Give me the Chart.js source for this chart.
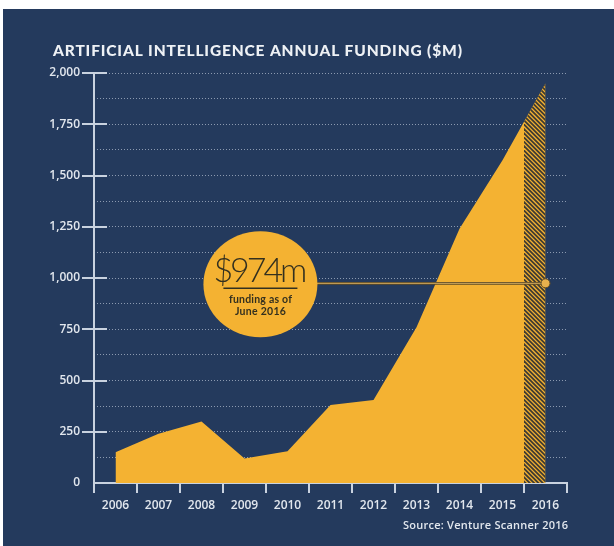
<!DOCTYPE html>
<html>
<head>
<meta charset="utf-8">
<script src="https://cdn.jsdelivr.net/npm/chart.js@4.4.1/dist/chart.umd.min.js"></script>
<style>
  html, body { margin: 0; padding: 0; background: #fff; }
  #wrap { position: relative; width: 614px; height: 546px; overflow: hidden; }
  #panel { position: absolute; left: 3px; top: 9px; right: 0; bottom: 0; background: #243a5d; }
  #chart { position: absolute; left: 0; top: 0; }
</style>
</head>
<body>
<div id="wrap">
  <div id="panel"></div>
  <canvas id="chart" width="614" height="546"></canvas>
</div>
<script>
// AI annual funding area chart, 2016 shown as hatched projection.

const YEARS = ['2006', '2007', '2008', '2009', '2010', '2011', '2012', '2013', '2014', '2015', '2016'];
const FUNDING = [150, 240, 300, 120, 155, 380, 405, 760, 1240, 1575, 1950]; // $M
const JUNE_2016 = 974; // $M, funding as of June 2016
const JUNE_POINT = [null, null, null, null, null, null, null, null, null, null, JUNE_2016];
const Y_MAX = 2000;
const Y_STEP = 125;        // dotted grid every 125
const Y_LABEL_STEP = 250;  // labels + tick marks every 250

const TITLE = 'ARTIFICIAL INTELLIGENCE ANNUAL FUNDING ($M)';
const SOURCE = 'Source: Venture Scanner 2016';
const CALLOUT = ['$974m', 'funding as of', 'June 2016'];

const C = {
  yellow: '#f4b232', axis: '#c9d2df', text: '#e2e7ee',
  grid: 'rgba(210,218,232,0.6)', dark: '#33301f', hatch: '#3d3a33',
};

// fit a string into a given width using letter spacing
function spaced(ctx, str, x, y, width, align) {
  ctx.letterSpacing = '0px';
  const w = ctx.measureText(str).width;
  const ls = (width - w) / Math.max(1, str.length - 1);
  ctx.letterSpacing = ls + 'px';
  ctx.textAlign = 'left';
  const x0 = align === 'center' ? x - width / 2 : align === 'right' ? x - width : x;
  ctx.fillText(str, x0, y);
  ctx.letterSpacing = '0px';
}

const decor = {
  id: 'decor',
  afterDatasetDraw(chart, args) {
    if (args.index !== 0) return;
    const { ctx, chartArea: a, scales: { x, y } } = chart;
    const pts = chart.getDatasetMeta(0).data;
    const p15 = pts[pts.length - 2], p16 = pts[pts.length - 1];
    const base = y.getPixelForValue(0);

    // hatched projection: second half of the 2015-2016 segment
    ctx.save();
    const xm = (p15.x + p16.x) / 2;
    ctx.beginPath();
    ctx.rect(xm, a.top - 20, p16.x - xm, base - a.top + 20);
    ctx.clip();
    ctx.beginPath();
    ctx.moveTo(p15.x, p15.y);
    ctx.lineTo(p16.x, p16.y);
    ctx.lineTo(p16.x, base);
    ctx.lineTo(p15.x, base);
    ctx.closePath();
    ctx.clip();
    ctx.strokeStyle = C.hatch;
    ctx.lineWidth = 1.8;
    const H = base - a.top + 40;
    for (let k = -H; k < p16.x - xm + 10; k += 4.3) {
      ctx.beginPath();
      ctx.moveTo(xm + k, a.top - 20);
      ctx.lineTo(xm + k + H, a.top - 20 + H);
      ctx.stroke();
    }
    ctx.restore();

    // callout bubble
    const cy = y.getPixelForValue(JUNE_2016);
    const cx = x.getPixelForValue(3) + 0.37 * (x.getPixelForValue(4) - x.getPixelForValue(3));
    const rx = 57, ry = 53;
    const dot = chart.getDatasetMeta(1).data[YEARS.length - 1];

    ctx.save();
    ctx.lineCap = 'butt';
    ctx.strokeStyle = '#5e4b26';
    ctx.lineWidth = 2.8;
    ctx.beginPath(); ctx.moveTo(cx + rx - 2, cy); ctx.lineTo(dot.x, cy); ctx.stroke();
    ctx.strokeStyle = '#d2ab60';
    ctx.lineWidth = 1;
    ctx.beginPath(); ctx.moveTo(cx + rx - 2, cy); ctx.lineTo(dot.x, cy); ctx.stroke();

    ctx.fillStyle = C.yellow;
    ctx.beginPath();
    ctx.ellipse(cx, cy + 1, rx, ry, 0, 0, Math.PI * 2);
    ctx.fill();

    ctx.fillStyle = C.dark;
    ctx.textBaseline = 'alphabetic';
    ctx.font = '300 34px Lato';
    spaced(ctx, CALLOUT[0], cx, cy - 1, 94, 'center');
    ctx.strokeStyle = C.dark;
    ctx.lineWidth = 1.5;
    ctx.beginPath(); ctx.moveTo(cx - 37, cy + 5); ctx.lineTo(cx + 37, cy + 5); ctx.stroke();
    ctx.font = 'bold 10.5px Lato';
    ctx.textBaseline = 'middle';
    spaced(ctx, CALLOUT[1], cx, cy + 16, 63, 'center');
    spaced(ctx, CALLOUT[2], cx, cy + 28, 51, 'center');
    ctx.restore();
  },
  afterDraw(chart) {
    const { ctx, chartArea: a, scales: { y } } = chart;
    ctx.save();
    ctx.strokeStyle = C.axis;
    ctx.lineWidth = 2;
    // solid y axis line
    ctx.beginPath(); ctx.moveTo(a.left, a.top); ctx.lineTo(a.left, a.bottom); ctx.stroke();
    // major tick marks crossing the y axis
    for (let v = Y_LABEL_STEP; v <= Y_MAX; v += Y_LABEL_STEP) {
      const py = Math.round(y.getPixelForValue(v));
      ctx.beginPath(); ctx.moveTo(a.left - 12, py); ctx.lineTo(a.left + 13, py); ctx.stroke();
    }
    // title and source
    ctx.fillStyle = '#eef1f5';
    ctx.textBaseline = 'middle';
    ctx.font = '900 15.5px Lato';
    spaced(ctx, TITLE, 53, 51, 409, 'left');
    ctx.fillStyle = C.text;
    ctx.font = '600 11px "Open Sans"';
    spaced(ctx, SOURCE, a.right + 1, 526, 165, 'right');
    ctx.restore();
  },
};

new Chart(document.getElementById('chart'), {
  data: {
    labels: YEARS,
    datasets: [
      {
        type: 'line', data: FUNDING, fill: 'origin', backgroundColor: C.yellow,
        borderWidth: 0, pointRadius: 0, tension: 0, order: 0,
      },
      {
        type: 'line', data: JUNE_POINT, showLine: false, order: -1,
        pointRadius: 4.5, backgroundColor: '#e9b14d', borderColor: '#5e4b26', borderWidth: 1,
      },
    ],
  },
  options: {
    responsive: false,
    animation: false,
    layout: { padding: { top: 73, right: 47, bottom: 0, left: 0 } },
    plugins: { legend: { display: false }, tooltip: { enabled: false } },
    scales: {
      x: {
        offset: true,
        afterFit: (s) => { s.height = 63; },
        grid: { offset: true, drawOnChartArea: false, tickLength: 10, color: C.axis, lineWidth: 2 },
        border: { display: true, color: C.axis, width: 2 },
        ticks: { color: C.text, padding: 5, font: { family: 'Open Sans', size: 12, weight: '600' } },
      },
      y: {
        min: 0, max: Y_MAX,
        afterFit: (s) => { s.width = 94; },
        grid: { drawTicks: false, color: C.grid, lineWidth: 1 },
        border: { display: false, dash: [1, 2] },
        ticks: {
          stepSize: Y_STEP, autoSkip: false, padding: 14, color: C.text,
          font: { family: 'Open Sans', size: 12, weight: '600' },
          callback: (v) => (v % Y_LABEL_STEP === 0 ? v.toLocaleString('en-US') : ''),
        },
      },
    },
  },
  plugins: [decor],
});
</script>
</body>
</html>
